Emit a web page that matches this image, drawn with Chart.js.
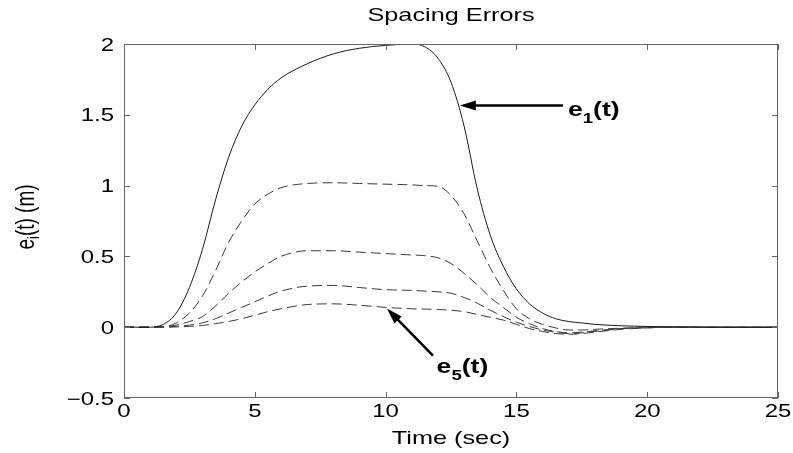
<!DOCTYPE html>
<html>
<head>
<meta charset="utf-8">
<script src="https://cdn.jsdelivr.net/npm/chart.js@4.4.1/dist/chart.umd.min.js"></script>
<style>
  html, body { margin: 0; padding: 0; background: #fff; }
  canvas { display: block; }
</style>
</head>
<body>
<canvas id="spacingChart" width="793" height="453"></canvas>
<script>
// time samples (sec) and the five spacing errors
const timeSec = [0, 1, 1.5, 2, 2.5, 3, 3.5, 4, 4.5, 5, 5.5, 6, 7, 8, 9, 10, 11, 11.5, 12, 12.5,
  13, 13.5, 14, 14.5, 15, 15.5, 16, 16.5, 17, 17.5, 18, 19, 20, 21, 22, 23, 25];

const e1 = [0, 0, 0.02, 0.10, 0.28, 0.55, 0.90, 1.20, 1.42, 1.57, 1.68, 1.76, 1.86, 1.93, 1.97, 1.99, 2.0, 1.98, 1.90, 1.73,
  1.42, 0.98, 0.65, 0.43, 0.27, 0.165, 0.10, 0.06, 0.04, 0.03, 0.02, 0.01, 0.005, 0.003, 0.001, 0, 0];
const e2 = [0, 0, 0.003, 0.03, 0.10, 0.22, 0.40, 0.60, 0.75, 0.87, 0.94, 0.985, 1.015, 1.02, 1.015, 1.01, 1.005, 1.0, 0.995, 0.93,
  0.80, 0.61, 0.42, 0.26, 0.13, 0.06, 0.02, -0.005, -0.02, -0.02, -0.015, -0.007, 0, 0, 0, 0, 0];
const e3 = [0, 0, 0.002, 0.015, 0.04, 0.075, 0.15, 0.24, 0.32, 0.39, 0.45, 0.50, 0.54, 0.54, 0.53, 0.52, 0.51, 0.505, 0.49, 0.45,
  0.38, 0.30, 0.21, 0.14, 0.07, 0.025, -0.01, -0.03, -0.04, -0.035, -0.025, -0.01, -0.003, 0, 0, 0, 0];
const e4 = [0, 0, 0.001, 0.006, 0.015, 0.03, 0.06, 0.10, 0.14, 0.18, 0.22, 0.255, 0.29, 0.295, 0.28, 0.265, 0.26, 0.255, 0.25, 0.24,
  0.21, 0.17, 0.12, 0.075, 0.035, 0.005, -0.02, -0.035, -0.045, -0.04, -0.03, -0.012, -0.004, 0, 0, 0, 0];
const e5 = [0, 0, 0, 0.002, 0.006, 0.012, 0.025, 0.04, 0.06, 0.085, 0.11, 0.13, 0.16, 0.165, 0.155, 0.14, 0.13, 0.128, 0.125, 0.12,
  0.11, 0.09, 0.07, 0.05, 0.02, -0.01, -0.03, -0.045, -0.05, -0.045, -0.035, -0.015, -0.005, 0, 0, 0, 0];

const xTickStep = 5;
const yTickStep = 0.5;

const SX = 1.33; // the reference text is stretched sideways
const FONT = '"Liberation Sans", Arial, sans-serif';

const toPoints = (ys) => ys.map((y, i) => ({ x: timeSec[i], y: y }));

const mkSet = (label, ys, dashed) => ({
  label: label,
  data: toPoints(ys),
  borderColor: dashed ? '#3a3a3a' : '#1a1a1a',
  borderWidth: 1,
  borderDash: dashed ? [10, 5] : [],
  pointRadius: 0,
  cubicInterpolationMode: 'monotone',
  fill: false
});

function wideText(ctx, str, x, y, align, font) {
  ctx.save();
  ctx.font = font;
  const w = ctx.measureText(str).width * SX;
  let x0 = x;
  if (align === 'center') x0 = x - w / 2;
  if (align === 'right') x0 = x - w;
  ctx.translate(x0, y);
  ctx.scale(SX, 1);
  ctx.textAlign = 'left';
  ctx.fillText(str, 0, 0);
  ctx.restore();
  return w;
}

// e + subscript + "(t)" drawn from left edge at baseline
function subLabel(ctx, x, y, sub, size) {
  const big = 'bold ' + size + 'px ' + FONT;
  const small = 'bold ' + Math.round(size * 0.68) + 'px ' + FONT;
  let cx = x;
  cx += wideText(ctx, 'e', cx, y, 'left', big);
  cx += wideText(ctx, sub, cx, y + 7, 'left', small);
  wideText(ctx, '(t)', cx, y, 'left', big);
}

function arrow(ctx, x1, y1, x2, y2) {
  const ang = Math.atan2(y2 - y1, x2 - x1);
  const hl = 16, hw = 5;
  ctx.save();
  ctx.strokeStyle = '#000';
  ctx.fillStyle = '#000';
  ctx.lineWidth = 2.5;
  ctx.beginPath();
  ctx.moveTo(x1, y1);
  ctx.lineTo(x2 - Math.cos(ang) * hl * 0.8, y2 - Math.sin(ang) * hl * 0.8);
  ctx.stroke();
  ctx.beginPath();
  ctx.moveTo(x2, y2);
  ctx.lineTo(x2 - Math.cos(ang) * hl - Math.sin(ang) * hw, y2 - Math.sin(ang) * hl + Math.cos(ang) * hw);
  ctx.lineTo(x2 - Math.cos(ang) * hl + Math.sin(ang) * hw, y2 - Math.sin(ang) * hl - Math.cos(ang) * hw);
  ctx.closePath();
  ctx.fill();
  ctx.restore();
}

const matlabFrame = {
  id: 'matlabFrame',
  afterDraw(chart) {
    const ctx = chart.ctx;
    const a = chart.chartArea;
    const xs = chart.scales.x;
    const ys = chart.scales.y;

    // box and inward ticks
    ctx.save();
    ctx.strokeStyle = '#666';
    ctx.lineWidth = 1;
    ctx.strokeRect(a.left + 0.5, a.top + 0.5, a.right - a.left - 1, a.bottom - a.top - 1);
    ctx.beginPath();
    xs.ticks.forEach(t => {
      const px = Math.round(xs.getPixelForValue(t.value)) + 0.5;
      ctx.moveTo(px, a.bottom); ctx.lineTo(px, a.bottom - 6);
      ctx.moveTo(px, a.top); ctx.lineTo(px, a.top + 6);
    });
    ys.ticks.forEach(t => {
      const py = Math.round(ys.getPixelForValue(t.value)) + 0.5;
      ctx.moveTo(a.left, py); ctx.lineTo(a.left + 6, py);
      ctx.moveTo(a.right, py); ctx.lineTo(a.right - 6, py);
    });
    ctx.stroke();
    ctx.restore();

    ctx.save();
    ctx.fillStyle = '#000';
    ctx.textBaseline = 'alphabetic';
    const tickFont = '18px ' + FONT;
    xs.ticks.forEach(t => {
      wideText(ctx, String(t.value), xs.getPixelForValue(t.value), a.bottom + 19, 'center', tickFont);
    });
    ys.ticks.forEach(t => {
      const s = String(t.value).replace('-', '\u2212');
      wideText(ctx, s, a.left - 10, ys.getPixelForValue(t.value) + 6.5, 'right', tickFont);
    });

    // title and axis titles
    const labFont = '19px ' + FONT;
    wideText(ctx, 'Spacing Errors', (a.left + a.right) / 2, 21, 'center', labFont);
    wideText(ctx, 'Time (sec)', (a.left + a.right) / 2, a.bottom + 46, 'center', labFont);

    // rotated y label: e_i(t) (m)
    const small = '13px ' + FONT;
    ctx.font = labFont;
    const w1 = ctx.measureText('e').width;
    const w3 = ctx.measureText('(t) (m)').width;
    ctx.font = small;
    const w2 = ctx.measureText('i').width;
    const total = w1 + w2 + w3;
    ctx.translate(34, (a.top + a.bottom) / 2 - 4);
    ctx.scale(SX, 1);
    ctx.rotate(-Math.PI / 2);
    ctx.textAlign = 'left';
    ctx.font = labFont;
    ctx.fillText('e', -total / 2, 0);
    ctx.font = small;
    ctx.fillText('i', -total / 2 + w1, 4);
    ctx.font = labFont;
    ctx.fillText('(t) (m)', -total / 2 + w1 + w2, 0);
    ctx.restore();

    // annotations
    ctx.save();
    ctx.fillStyle = '#000';
    arrow(ctx, xs.getPixelForValue(16.78), ys.getPixelForValue(1.566),
      xs.getPixelForValue(12.84), ys.getPixelForValue(1.566));
    subLabel(ctx, xs.getPixelForValue(16.97), ys.getPixelForValue(1.49), '1', 20);
    arrow(ctx, xs.getPixelForValue(11.81), ys.getPixelForValue(-0.201),
      xs.getPixelForValue(10.05), ys.getPixelForValue(0.132));
    subLabel(ctx, xs.getPixelForValue(11.95), ys.getPixelForValue(-0.322), '5', 20);
    ctx.restore();
  }
};

new Chart(document.getElementById('spacingChart'), {
  type: 'line',
  data: {
    datasets: [
      mkSet('e1', e1, false),
      mkSet('e2', e2, true),
      mkSet('e3', e3, true),
      mkSet('e4', e4, true),
      mkSet('e5', e5, true)
    ]
  },
  options: {
    responsive: false,
    animation: false,
    devicePixelRatio: 1,
    layout: { padding: { left: 0, right: 15, top: 44, bottom: 0 } },
    plugins: {
      legend: { display: false },
      tooltip: { enabled: false },
      title: { display: false }
    },
    scales: {
      x: {
        type: 'linear',
        min: 0,
        max: 25,
        ticks: { display: false, stepSize: xTickStep },
        grid: { display: false },
        border: { display: false },
        afterFit: (s) => { s.height = 55; }
      },
      y: {
        type: 'linear',
        min: -0.5,
        max: 2,
        ticks: { display: false, stepSize: yTickStep },
        grid: { display: false },
        border: { display: false },
        afterFit: (s) => { s.width = 124; }
      }
    }
  },
  plugins: [matlabFrame]
});
</script>
</body>
</html>
